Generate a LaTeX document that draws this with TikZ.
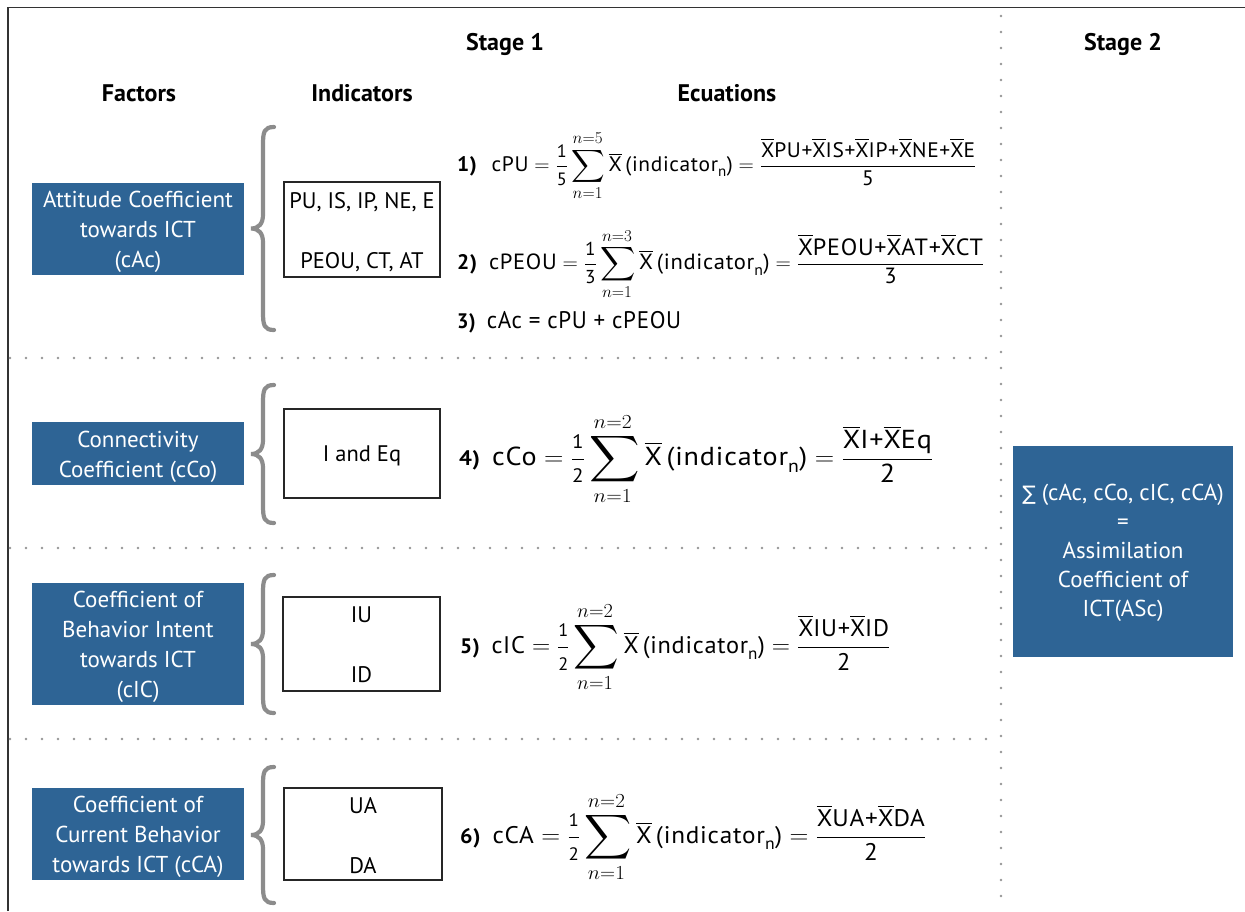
\documentclass[tikz,border=0pt]{standalone}
\usepackage{amsmath}
\usepackage{fontspec}
\newfontfamily\ptsans{PT Sans}
\newfontfamily\eqfont{PT Sans}[LetterSpace=3]
\newfontfamily\djv{DejaVu Sans}
\definecolor{boxblue}{RGB}{46,100,149}
\definecolor{bracegray}{RGB}{140,140,140}
\definecolor{dotgray}{RGB}{150,150,150}
\newcommand{\Xb}{\overline{\text{X}}}
\newcommand{\ind}{\text{\,(indicator}_{\text{n}}\text{)}}
\newcommand{\lm}[1]{\scalebox{0.8}{$n{=}#1$}}
\newcommand{\bigsum}[3]{\mathop{\vcenter{\hbox{\scalebox{#1}{$\displaystyle\sum$}}}}\limits_{\lm{#2}}^{\lm{#3}}}
\newcommand{\sfr}[3]{\frac{\scalebox{#1}{\text{#2}}}{\scalebox{#1}{\text{#3}}}}
\newcommand{\eqbox}[2]{\resizebox{#1}{\height}{#2}}
\begin{document}
\begin{tikzpicture}[x=1pt,y=-1pt,
  factorbox/.style={fill=boxblue, inner sep=0pt},
  factortext/.style={text=white, align=center, inner sep=0pt,
    font=\ptsans\fontsize{23}{30}\selectfont},
  indic/.style={draw=black!85, line width=1.2pt, fill=white, inner sep=0pt},
  indictext/.style={align=center, inner sep=0pt, font=\ptsans\fontsize{22.5}{60}\selectfont},
  head/.style={font=\ptsans\bfseries\fontsize{24}{28}\selectfont},
  eqn/.style={anchor=west, inner sep=0pt},
  bracestyle/.style={draw=bracegray, line width=4.2pt, line cap=round},
  dotline/.style={draw=dotgray, line width=2.6pt, line cap=round, dash pattern=on 0pt off 16pt}]
\useasboundingbox (0,0) rectangle (1245,911);
\fill[white] (0,0) rectangle (1245,911);

% frame
\draw[black!80, line width=1.4pt] (8,911) -- (8,7.5) -- (1245,7.5);

% dotted separators
\draw[dotline] (1001,16) -- (1001,911);
\foreach \yy in {358,548,739}
  \draw[dotline] (10,\yy) -- (1001,\yy);

% headings
\node[head] (st1) at (505,44) {Stage 1};
\node[head] (st2) at (1123,44) {Stage 2};
\node[head] (hf) at (139,93) {Factors};
\node[head] (hi) at (362,93) {Indicators};
\node[head] (he) at (727,93) {Ecuations};

% factor boxes
\node[factorbox, minimum width=212pt, minimum height=92pt] (f1) at (138,229) {};
\node[factortext] (f1t) at ([yshift=-3pt]f1.center) {Attitude Coefficient\\towards ICT\\(cAc)};
\node[factorbox, minimum width=212pt, minimum height=63pt] (f2) at (138,453.5) {};
\node[factortext] (f2t) at ([yshift=-3.5pt]f2.center) {Connectivity\\Coefficient (cCo)};
\node[factorbox, minimum width=212pt, minimum height=122pt] (f3) at (138,644) {};
\node[factortext] (f3t) at ([yshift=-3pt]f3.center) {Coefficient of\\Behavior Intent\\towards ICT\\(cIC)};
\node[factorbox, minimum width=212pt, minimum height=92pt] (f4) at (138,834) {};
\node[factortext] (f4t) at ([yshift=-3pt]f4.center) {Coefficient of\\Current Behavior\\towards ICT (cCA)};

% braces
\foreach \t/\b in {127/330, 385/523, 575/713, 767/903}{
  \pgfmathsetmacro\m{(\t+\b)/2}
  \draw[bracestyle] (274,\t) .. controls (264,\t) and (263,\t+5) .. (263,\t+18)
    -- (263,\m-14) .. controls (263,\m-5) and (259,\m) .. (251,\m)
    .. controls (259,\m) and (263,\m+5) .. (263,\m+14)
    -- (263,\b-18) .. controls (263,\b-5) and (264,\b) .. (274,\b);
}

% indicator boxes
\node[indic, minimum width=156pt, minimum height=95pt] (i1) at (362,229.5) {};
\node[indictext] (i1t) at ([yshift=-2.5pt]i1.center) {PU, IS, IP, NE, E\\PEOU, CT, AT};
\node[indic, minimum width=156pt, minimum height=89pt] (i2) at (362,453.5) {};
\node[indictext] (i2t) at ([yshift=-2pt]i2.center) {I and Eq};
\node[indic, minimum width=157pt, minimum height=94pt] (i3) at (361.5,644) {};
\node[indictext] (i3t) at ([yshift=-1pt]i3.center) {IU\\ID};
\node[indic, minimum width=158pt, minimum height=92pt] (i4) at (363,834) {};
\node[indictext] (i4t) at ([yshift=-2pt]i4.center) {UA\\DA};

% equations
\node[eqn, font=\eqfont\fontsize{21}{24}\selectfont] (e1) at (457,166)
  {\eqbox{519pt}{\textbf{1)}\hspace{0.65em}$\displaystyle \text{cPU} = \sfr{0.85}{1}{5}\bigsum{1.1}{1}{5}\Xb\ind
   = \frac{\Xb\text{PU+}\Xb\text{IS+}\Xb\text{IP+}\Xb\text{NE+}\Xb\text{E}}{\text{5}}$}};
\node[eqn, font=\eqfont\fontsize{22}{25}\selectfont] (e2) at (457,264)
  {\eqbox{527pt}{\textbf{\fontsize{21}{24}\selectfont 2)}\hspace{0.5em}$\displaystyle \text{cPEOU} = \sfr{0.85}{1}{3}\bigsum{1.15}{1}{3}\Xb\ind
   = \frac{\text{\fontsize{23.5}{26}\selectfont$\Xb$PEOU+$\Xb$AT+$\Xb$CT}}{\text{3}}$}};
\node[eqn, font=\eqfont\fontsize{24}{27}\selectfont] (e3) at (457,322)
  {\eqbox{224pt}{\textbf{\fontsize{21}{24}\selectfont 3)}\hspace{0.45em}cAc = cPU + cPEOU}};
\node[eqn, font=\eqfont\fontsize{26}{30}\selectfont] (e4) at (459,459)
  {\eqbox{474pt}{\textbf{\fontsize{21}{24}\selectfont 4)}\hspace{0.4em}$\displaystyle \text{cCo} = \sfr{0.75}{1}{2}\bigsum{1.3}{1}{2}\Xb\ind
   = \frac{\Xb\text{I+}\Xb\text{Eq}}{\text{2}}$}};
\node[eqn, font=\eqfont\fontsize{24}{28}\selectfont] (e5) at (460,647)
  {\eqbox{430pt}{\textbf{\fontsize{21}{24}\selectfont 5)}\hspace{0.45em}$\displaystyle \text{cIC} = \sfr{0.75}{1}{2}\bigsum{1.25}{1}{2}\Xb\ind
   = \frac{\Xb\text{IU+}\Xb\text{ID}}{\text{2}}$}};
\node[eqn, font=\eqfont\fontsize{24}{28}\selectfont] (e6) at (460,837)
  {\eqbox{466pt}{\textbf{\fontsize{21}{24}\selectfont 6)}\hspace{0.45em}$\displaystyle \text{cCA} = \sfr{0.75}{1}{2}\bigsum{1.25}{1}{2}\Xb\ind
   = \frac{\Xb\text{UA+}\Xb\text{DA}}{\text{2}}$}};

% stage 2 result
\node[factorbox, minimum width=220pt, minimum height=211pt] (asc) at (1123,551.5) {};
\node[factortext, font=\ptsans\fontsize{23}{29}\selectfont] (asct) at ([yshift=-1pt]asc.center)
  {{\djv\fontsize{20}{29}\selectfont ∑} (cAc, cCo, cIC, cCA)\\=\\Assimilation\\Coefficient of\\ICT(ASc)};
\end{tikzpicture}
\end{document}
